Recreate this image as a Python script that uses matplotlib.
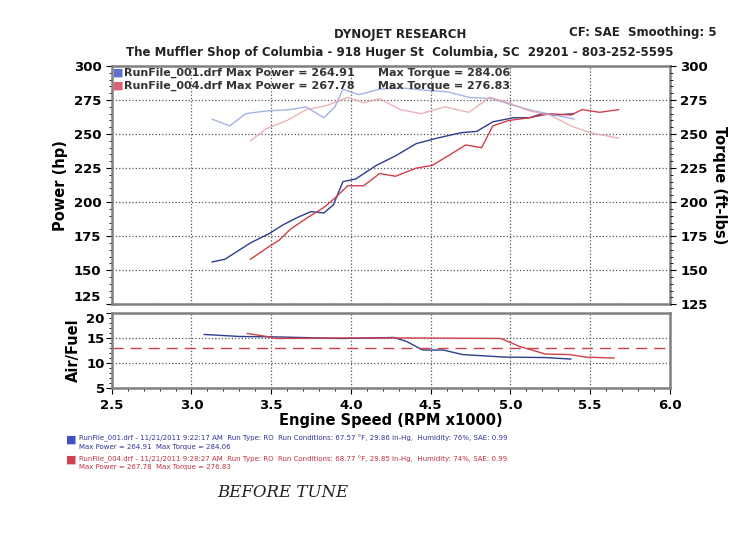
import matplotlib
matplotlib.use("Agg")
import matplotlib.pyplot as plt
from matplotlib.ticker import MultipleLocator

# run 001 (blue) and run 004 (red), rpm x1000
bp_rpm = [3.13, 3.21, 3.29, 3.37, 3.49, 3.57, 3.67, 3.75, 3.83, 3.89, 3.95, 4.03, 4.16, 4.28,
          4.41, 4.54, 4.69, 4.79, 4.89, 5.02, 5.12, 5.20, 5.28, 5.40]
bp_hp = [156, 158, 164, 170, 177, 183, 189, 193, 192, 198, 215, 217, 227, 234,
         243, 247, 251, 252, 259, 262, 262, 265, 264, 265]
rp_rpm = [3.37, 3.47, 3.55, 3.62, 3.72, 3.83, 3.90, 3.98, 4.08, 4.18, 4.28, 4.41, 4.51, 4.61,
          4.72, 4.82, 4.89, 4.99, 5.12, 5.25, 5.38, 5.45, 5.56, 5.68]
rp_hp = [158, 166, 172, 180, 188, 196, 203, 212, 212, 221, 219, 225, 227, 234,
         242, 240, 256, 260, 262, 265, 264, 268, 266, 268]
bt_rpm = [3.13, 3.24, 3.34, 3.47, 3.62, 3.72, 3.83, 3.90, 3.95, 4.05, 4.18, 4.31, 4.49, 4.61,
          4.74, 4.89, 5.02, 5.15, 5.28, 5.40]
bt_tq = [261, 256, 265, 267, 268, 270, 262, 270, 283, 279, 283, 284, 282, 281,
         277, 276, 271, 267, 264, 261]
rt_rpm = [3.37, 3.47, 3.60, 3.72, 3.85, 3.98, 4.08, 4.18, 4.31, 4.44, 4.59, 4.74, 4.87, 4.99,
          5.12, 5.25, 5.38, 5.50, 5.68]
rt_tq = [245, 254, 260, 268, 271, 277, 273, 276, 268, 265, 270, 266, 277, 273,
         267, 264, 256, 251, 247]
ba_rpm = [3.08, 3.30, 3.55, 3.94, 4.27, 4.35, 4.45, 4.58, 4.70, 4.96, 5.22, 5.38]
ba_afr = [15.7, 15.3, 15.2, 14.9, 15.1, 14.3, 12.6, 12.6, 11.7, 11.2, 11.1, 10.8]
ra_rpm = [3.35, 3.47, 3.53, 3.94, 4.45, 4.94, 5.06, 5.22, 5.37, 5.47, 5.65]
ra_afr = [15.9, 15.3, 14.9, 15.0, 15.0, 14.9, 13.3, 11.8, 11.7, 11.2, 11.0]
afr_target = 13.0

BLUE = "#2c3e8c"
RED = "#d0404a"
plt.rcParams["font.family"] = "DejaVu Sans"

fig = plt.figure(figsize=(7.5, 5.46), dpi=100)
fig.patch.set_facecolor("white")
ax = fig.add_axes([0.149, 0.443, 0.744, 0.436])
ax2 = fig.add_axes([0.149, 0.289, 0.744, 0.138])

for a in (ax, ax2):
    for s in a.spines.values():
        s.set_color("#808080")
        s.set_linewidth(1.8)
    a.grid(True, ls=":", color="#555555", lw=0.9)
    a.set_xlim(2.5, 6.0)

ax.plot(bp_rpm, bp_hp, color=BLUE, lw=1)
ax.plot(rp_rpm, rp_hp, color=RED, lw=1)
ax.plot(bt_rpm, bt_tq, color="#8f9fe0", lw=1, alpha=0.8)
ax.plot(rt_rpm, rt_tq, color="#e8a0a8", lw=1, alpha=0.8)
ax.set_ylim(125, 300)
ax.set_yticks(range(125, 301, 25))
ax.set_xticks([3.0, 3.5, 4.0, 4.5, 5.0, 5.5])
ax.yaxis.set_minor_locator(MultipleLocator(5))
ax.set_xticklabels([])
ax.tick_params(axis="x", length=0)
ax.tick_params(axis="y", labelsize=9.5, length=4)
for lbl in ax.get_yticklabels():
    lbl.set_fontweight("bold")
ax.get_yticklabels()[0].set_verticalalignment("bottom")
ax.set_ylabel("Power (hp)", fontsize=10.5, fontweight="bold")
axr = ax.twinx()
axr.set_ylim(125, 300)
axr.set_yticks(range(125, 301, 25))
axr.yaxis.set_minor_locator(MultipleLocator(5))
axr.tick_params(labelsize=9.5, length=4)
for lbl in axr.get_yticklabels():
    lbl.set_fontweight("bold")
axr.set_ylabel("Torque (ft-lbs)", fontsize=10.5, fontweight="bold", rotation=270, labelpad=14)
for s in axr.spines.values():
    s.set_visible(False)

ax.text(0.003, 0.995, "■", color="#6070d0", transform=ax.transAxes, fontsize=8, va="top")
ax.text(0.003, 0.94, "■", color="#e06070", transform=ax.transAxes, fontsize=8, va="top")
ax.text(0.022, 0.995, "RunFile_001.drf Max Power = 264.91      Max Torque = 284.06",
        transform=ax.transAxes, fontsize=8, fontweight="bold", va="top", color="#333333")
ax.text(0.022, 0.94, "RunFile_004.drf Max Power = 267.78      Max Torque = 276.83",
        transform=ax.transAxes, fontsize=8, fontweight="bold", va="top", color="#333333")

ax2.plot(ba_rpm, ba_afr, color=BLUE, lw=1)
ax2.plot(ra_rpm, ra_afr, color=RED, lw=1)
ax2.axhline(afr_target, color=RED, lw=1, ls=(0, (8, 5)))
ax2.set_ylim(5, 20)
ax2.set_yticks([5, 10, 15, 20])
ax2.yaxis.set_minor_locator(MultipleLocator(1))
ax2.set_xticks([2.5, 3.0, 3.5, 4.0, 4.5, 5.0, 5.5, 6.0])
ax2.set_xticklabels(["2.5", "3.0", "3.5", "4.0", "4.5", "5.0", "5.5", "6.0"])
ax2.xaxis.set_minor_locator(MultipleLocator(0.1))
ax2.tick_params(labelsize=9.5, length=4)
ax2.tick_params(axis="y", pad=1)
for lbl in ax2.get_xticklabels() + ax2.get_yticklabels():
    lbl.set_fontweight("bold")
ax2.get_yticklabels()[-1].set_verticalalignment("top")
ax2.set_ylabel("Air/Fuel", fontsize=10.5, fontweight="bold")
ax2.set_xlabel("Engine Speed (RPM x1000)", fontsize=10.5, fontweight="bold", labelpad=1)

fig.text(0.533, 0.93, "DYNOJET RESEARCH", ha="center", fontsize=8.5, fontweight="bold", color="#222222")
fig.text(0.533, 0.897, "The Muffler Shop of Columbia - 918 Huger St  Columbia, SC  29201 - 803-252-5595",
         ha="center", fontsize=8.5, fontweight="bold", color="#222222")
fig.text(0.955, 0.934, "CF: SAE  Smoothing: 5", ha="right", fontsize=8.5, fontweight="bold", color="#222222")

fig.text(0.088, 0.19, "■", color="#4050c0", fontsize=8)
fig.text(0.105, 0.193, "RunFile_001.drf - 11/21/2011 9:22:17 AM  Run Type: RO  Run Conditions: 67.57 °F, 29.86 in-Hg,  Humidity: 76%, SAE: 0.99",
         fontsize=5, color="#333399")
fig.text(0.105, 0.178, "Max Power = 264.91  Max Torque = 284.06", fontsize=5, color="#333399")
fig.text(0.088, 0.153, "■", color="#d04050", fontsize=8)
fig.text(0.105, 0.156, "RunFile_004.drf - 11/21/2011 9:28:27 AM  Run Type: RO  Run Conditions: 68.77 °F, 29.85 in-Hg,  Humidity: 74%, SAE: 0.99",
         fontsize=5, color="#c03040")
fig.text(0.105, 0.141, "Max Power = 267.78  Max Torque = 276.83", fontsize=5, color="#c03040")
fig.text(0.29, 0.09, "BEFORE TUNE", fontsize=12, style="italic", color="#222222", family="DejaVu Serif")

fig.savefig("out.png", dpi=100)
